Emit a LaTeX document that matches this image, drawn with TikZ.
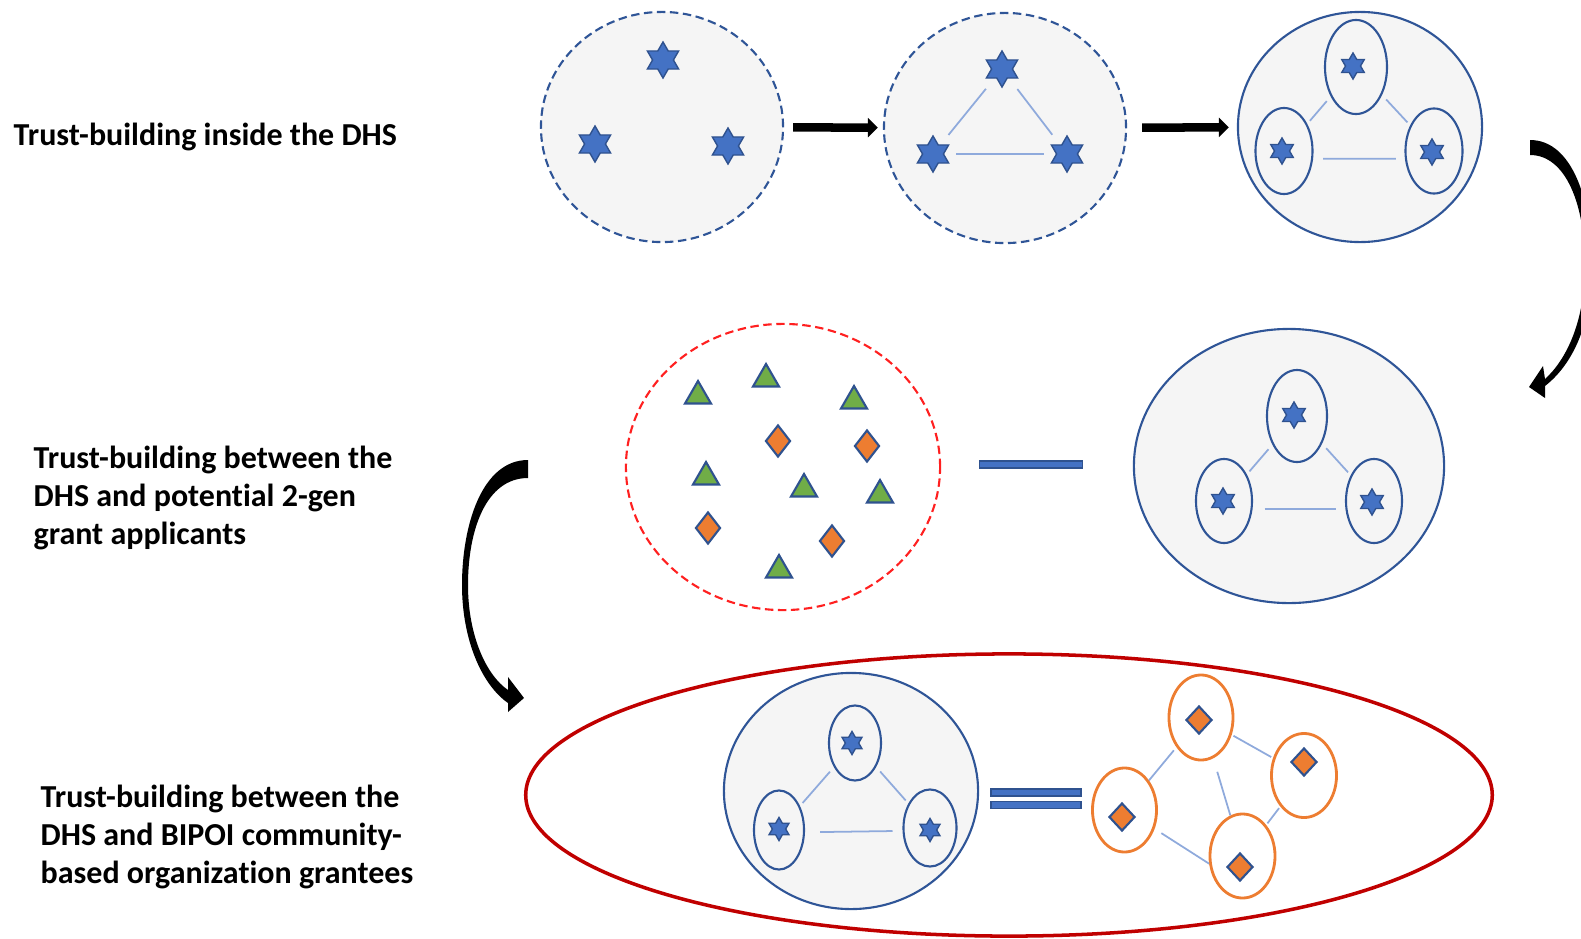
\documentclass[tikz,border=0pt]{standalone}
\usepackage{fontspec}
\setmainfont{Carlito}[Ligatures=CommonOff]
\usetikzlibrary{shapes.geometric,arrows.meta}

\definecolor{starblue}{HTML}{4472C4}
\definecolor{stardark}{HTML}{2F528F}
\definecolor{ringblue}{HTML}{2F5597}
\definecolor{paleback}{HTML}{F5F5F5}
\definecolor{linkblue}{HTML}{8FAADC}
\definecolor{leafgreen}{HTML}{70AD47}
\definecolor{gemorange}{HTML}{ED7D31}
\definecolor{dashred}{HTML}{FF2020}
\definecolor{deepred}{HTML}{C00000}

\tikzset{
  ring/.style={ellipse, draw=ringblue, fill=paleback, line width=0.6pt, inner sep=0},
  dashring/.style={ring, dash pattern=on 2.4pt off 1.3pt},
  cell/.style={ellipse, draw=ringblue, line width=0.6pt, inner sep=0},
  bigstar/.style={star, star points=6, star point ratio=1.73, fill=starblue, draw=stardark, line width=0.4pt, inner sep=0, minimum size=0.36cm},
  smallstar/.style={bigstar, minimum size=0.26cm},
  tri/.style={regular polygon, regular polygon sides=3, fill=leafgreen, draw=stardark, line width=0.6pt, inner sep=0, minimum size=0.30cm},
  gem/.style={diamond, fill=gemorange, draw=stardark, line width=0.6pt, inner sep=0, minimum width=0.25cm, minimum height=0.32cm},
  link/.style={draw=linkblue, line width=0.5pt},
  bar/.style={rectangle, fill=starblue, draw=stardark, line width=0.5pt, inner sep=0, minimum height=0.07cm},
  stage/.style={font=\bfseries\fontsize{9.1pt}{10.9pt}\selectfont, align=left, anchor=west, inner sep=0},
  push/.style={line width=0.085cm, -{Triangle[length=0.1cm, width=0.19cm]}}
}

\begin{document}
\begin{tikzpicture}[x=0.01cm, y=-0.01cm]
\useasboundingbox (0,0) rectangle (1581,939);

% labels on the left
\node[stage] (inside) at (13,137) {Trust-building inside the DHS};
\node[stage] (applicants) at (33,498) {Trust-building between the\\DHS and potential 2-gen\\grant applicants};
\node[stage] (grantees) at (40,837) {Trust-building between the\\DHS and BIPOI community-\\based organization grantees};

% first row
\node[dashring, minimum width=2.42cm, minimum height=2.30cm] (hubA) at (662,127) {};
\node[bigstar] (a1) at (663,60) {};
\node[bigstar] (a2) at (595,144) {};
\node[bigstar] (a3) at (728,146) {};

\node[dashring, minimum width=2.42cm, minimum height=2.30cm] (hubB) at (1005,128) {};
\node[bigstar] (b1) at (1002,69) {};
\node[bigstar] (b2) at (933,154) {};
\node[bigstar] (b3) at (1067,154) {};
\draw[link, shorten <=0.12cm, shorten >=0.13cm] (b2) -- (b1);
\draw[link, shorten <=0.13cm, shorten >=0.12cm] (b1) -- (b3);
\draw[link, shorten <=0.12cm, shorten >=0.12cm] (b2) -- (b3);

\node[ring, minimum width=2.44cm, minimum height=2.30cm] (hubC) at (1360,127) {};
\node[cell, minimum width=0.62cm, minimum height=0.94cm] (c1) at (1356,67) {};
\node[cell, minimum width=0.57cm, minimum height=0.86cm] (c2) at (1284,151) {};
\node[cell, minimum width=0.57cm, minimum height=0.85cm] (c3) at (1434,151) {};
\node[smallstar] (c1s) at (1353,66) {};
\node[smallstar] (c2s) at (1282,151) {};
\node[smallstar] (c3s) at (1432,152) {};
\draw[link, shorten <=0.04cm, shorten >=0.06cm] (c2) -- (c1);
\draw[link, shorten <=0.06cm, shorten >=0.04cm] (c1) -- (c3);
\draw[link, shorten <=0.1cm, shorten >=0.09cm] (c2.-15) -- (c3.195);

\draw[push, shorten <=0.09cm, shorten >=0.05cm] (hubA) -- (hubB);
\draw[push, shorten <=0.15cm, shorten >=0.08cm] (hubB) -- (hubC);

% second row
\node[dashring, draw=dashred, fill=white, minimum width=3.14cm, minimum height=2.86cm] (pool) at (783,467) {};
\node[tri] (t1) at (698,396) {};
\node[tri] (t2) at (766,379) {};
\node[tri] (t3) at (854,401) {};
\node[tri] (t4) at (706,477) {};
\node[tri] (t5) at (804,489) {};
\node[tri] (t6) at (880,495) {};
\node[tri] (t7) at (779,570) {};
\node[gem] (p1) at (778,441) {};
\node[gem] (p2) at (867,446) {};
\node[gem] (p3) at (708,528) {};
\node[gem] (p4) at (832,541) {};

\node[bar, minimum width=1.03cm] (tie) at (1031,464.5) {};

\node[ring, minimum width=3.10cm, minimum height=2.74cm] (hubD) at (1289,466) {};
\node[cell, minimum width=0.60cm, minimum height=0.92cm] (d1) at (1297,416) {};
\node[cell, minimum width=0.56cm, minimum height=0.84cm] (d2) at (1224,501) {};
\node[cell, minimum width=0.56cm, minimum height=0.84cm] (d3) at (1374,501) {};
\node[smallstar] (d1s) at (1294,415) {};
\node[smallstar] (d2s) at (1223,501) {};
\node[smallstar] (d3s) at (1372,502) {};
\draw[link, shorten <=0.04cm, shorten >=0.06cm] (d2) -- (d1);
\draw[link, shorten <=0.06cm, shorten >=0.04cm] (d1) -- (d3);
\draw[link, shorten <=0.12cm, shorten >=0.09cm] (d2.-15) -- (d3.195);

% third row
\node[ellipse, draw=deepred, line width=1pt, inner sep=0, minimum width=9.66cm, minimum height=2.82cm] (arena) at (1009,795) {};

\node[ring, minimum width=2.54cm, minimum height=2.36cm] (hubE) at (851,791) {};
\node[cell, minimum width=0.52cm, minimum height=0.75cm] (e1) at (855,743) {};
\node[cell, minimum width=0.50cm, minimum height=0.79cm] (e2) at (779,830) {};
\node[cell, minimum width=0.53cm, minimum height=0.77cm] (e3) at (930,828) {};
\node[smallstar, minimum size=0.23cm] (e1s) at (852,743) {};
\node[smallstar, minimum size=0.23cm] (e2s) at (779,829) {};
\node[smallstar, minimum size=0.23cm] (e3s) at (930,830) {};
\draw[link, shorten <=0.04cm, shorten >=0.06cm] (e2) -- (e1);
\draw[link, shorten <=0.06cm, shorten >=0.04cm] (e1) -- (e3);
\draw[link, shorten <=0.15cm, shorten >=0.1cm] (e2.-5) -- (e3.186);

\node[bar, minimum width=0.90cm] (same1) at (1036,792.5) {};
\node[bar, minimum width=0.90cm] (same2) at (1036,805) {};

\node[cell, draw=gemorange, line width=0.8pt, minimum width=0.64cm, minimum height=0.85cm] (g1) at (1201,717.5) {};
\node[cell, draw=gemorange, line width=0.8pt, minimum width=0.65cm, minimum height=0.84cm] (g2) at (1304,775.5) {};
\node[cell, draw=gemorange, line width=0.8pt, minimum width=0.64cm, minimum height=0.84cm] (g3) at (1124.5,810) {};
\node[cell, draw=gemorange, line width=0.8pt, minimum width=0.65cm, minimum height=0.84cm] (g4) at (1242.5,856) {};
\node[gem, minimum width=0.26cm, minimum height=0.28cm] (q1) at (1199,720) {};
\node[gem, minimum width=0.26cm, minimum height=0.28cm] (q2) at (1304,762) {};
\node[gem, minimum width=0.26cm, minimum height=0.28cm] (q3) at (1122,817) {};
\node[gem, minimum width=0.26cm, minimum height=0.28cm] (q4) at (1240,867) {};
\draw[link, shorten >=0.04cm] (g3) -- (g1);
\draw[link, shorten <=0.02cm, shorten >=0.02cm] (g1) -- (g2);
\draw[link, shorten <=0.14cm] (g1) -- (g4);
\draw[link, shorten <=0.08cm] (g3.-32) -- (g4.193);
\draw[link, shorten <=0.02cm, shorten >=0.02cm] (g2) -- (g4);

% turning arrows between the rows
\fill (1530,140) .. controls (1572,140) and (1592,200) .. (1592,265)
  .. controls (1592,325) and (1572,365) .. (1545,386) -- (1545,398) -- (1529,387)
  -- (1543,366) -- (1545,379) .. controls (1566,360) and (1585,322) .. (1585,265)
  .. controls (1585,205) and (1566,155) .. (1530,155) -- cycle;
\fill (528,460) .. controls (482,460) and (462,525) .. (462,585)
  .. controls (462,640) and (482,685) .. (508,703) -- (508,712) -- (524,698)
  -- (508,677) -- (508,690) .. controls (486,675) and (468,635) .. (468,585)
  .. controls (468,530) and (486,478) .. (528,478) -- cycle;
\end{tikzpicture}
\end{document}
